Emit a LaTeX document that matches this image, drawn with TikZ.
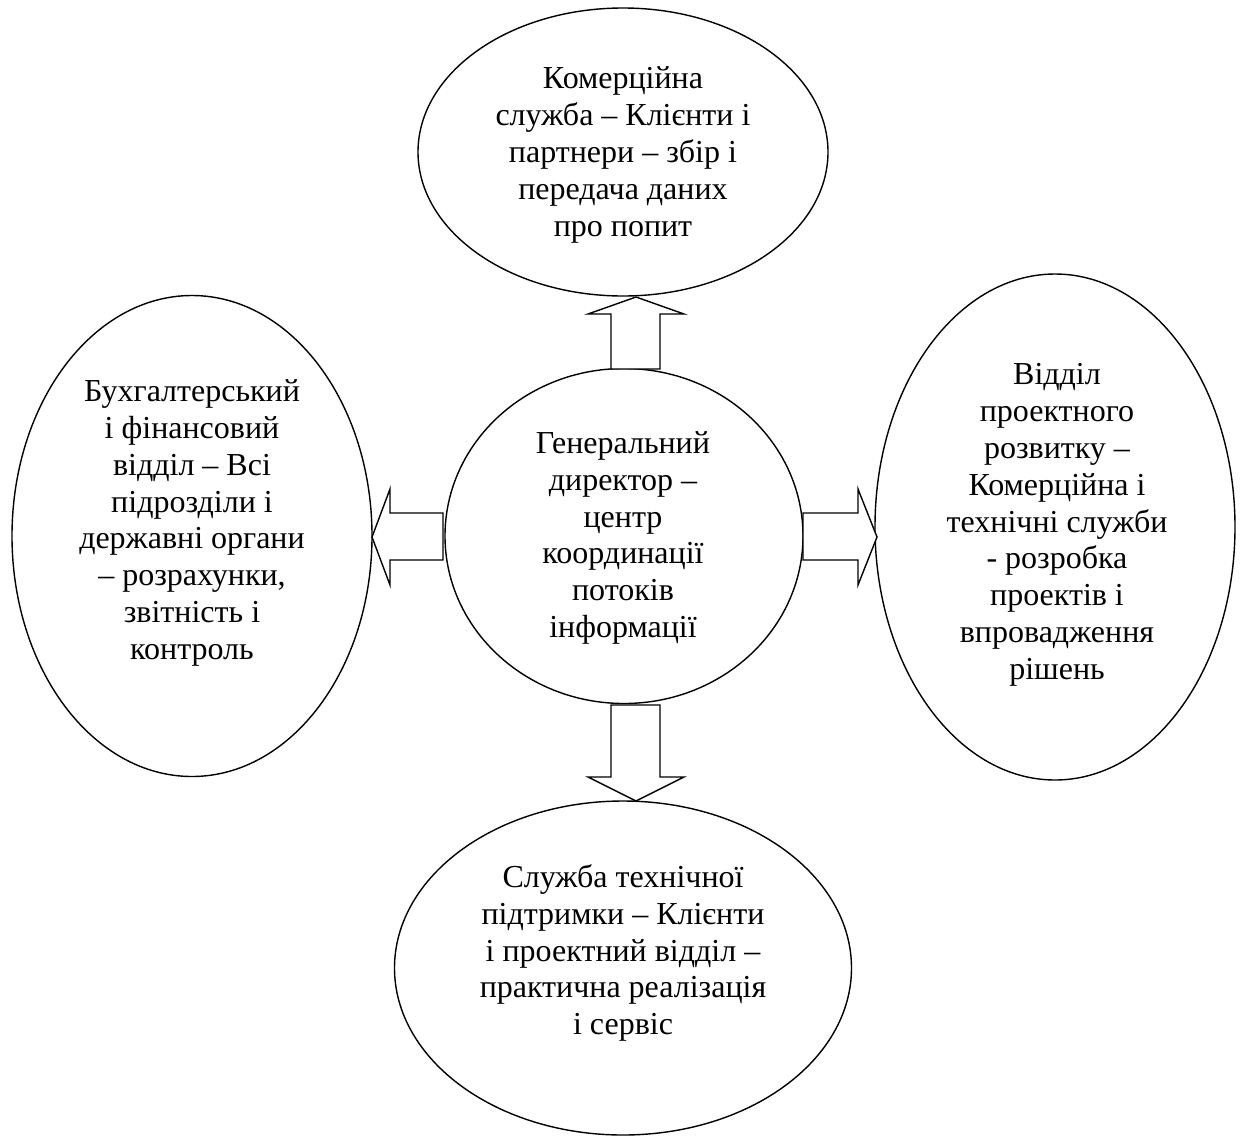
\documentclass[tikz,border=0pt]{standalone}
\usepackage{fontspec}
\setmainfont{Liberation Serif}[Ligatures=TeX]
\newfontfamily\tnrfont{Liberation Serif}
\usetikzlibrary{shapes.geometric}
\begin{document}
\begin{tikzpicture}[x=1pt,y=-1pt,
  ell/.style={draw, ellipse, line width=1.4pt, inner sep=0pt, outer sep=0pt},
  txt/.style={align=center, inner sep=0pt, font=\tnrfont\fontsize{32}{36.8}\selectfont},
  blockarrow/.style={draw, fill=white, line width=1.4pt, line join=miter}]
\useasboundingbox (0,0) rectangle (1240,1136);
% ellipses
\node[ell, minimum width=410pt, minimum height=288pt] (top) at (623,152) {};
\node[ell, minimum width=360pt, minimum height=481pt] (left) at (192,536) {};
\node[ell, minimum width=358pt, minimum height=335pt] (centre) at (624,536) {};
\node[ell, minimum width=360pt, minimum height=506pt] (right) at (1055,527) {};
\node[ell, minimum width=457pt, minimum height=334pt] (bottom) at (623,968) {};
% texts
\node[txt] (toptext) at (623,155) {Комерційна\\служба – Клієнти і\\партнери – збір і\\передача даних\\про попит};
\node[txt] (lefttext) at (192,523) {Бухгалтерський\\і фінансовий\\відділ – Всі\\підрозділи і\\державні органи\\– розрахунки,\\звітність і\\контроль};
\node[txt] (centretext) at (623,538) {Генеральний\\директор –\\центр\\координації\\потоків\\інформації};
\node[txt] (righttext) at (1057,525) {Відділ\\проектного\\розвитку –\\Комерційна і\\технічні служби\\- розробка\\проектів і\\впровадження\\рішень};
\node[txt] (bottomtext) at (623,953) {Служба технічної\\підтримки – Клієнти\\і проектний відділ –\\практична реалізація\\і сервіс};
% block arrows
\draw[blockarrow] (611,369) -- (611,314) -- (588,314) -- (636,297) -- (684,314) -- (660,314) -- (660,369) -- cycle;
\draw[blockarrow] (443,513) -- (390,513) -- (390,489) -- (372,537) -- (390,585) -- (390,560) -- (443,560) -- cycle;
\draw[blockarrow] (803,513) -- (858,513) -- (858,489) -- (877,537) -- (858,585) -- (858,560) -- (803,560) -- cycle;
\draw[blockarrow] (611,705) -- (611,777) -- (588,777) -- (636,801) -- (684,777) -- (660,777) -- (660,705) -- cycle;
\end{tikzpicture}
\end{document}
